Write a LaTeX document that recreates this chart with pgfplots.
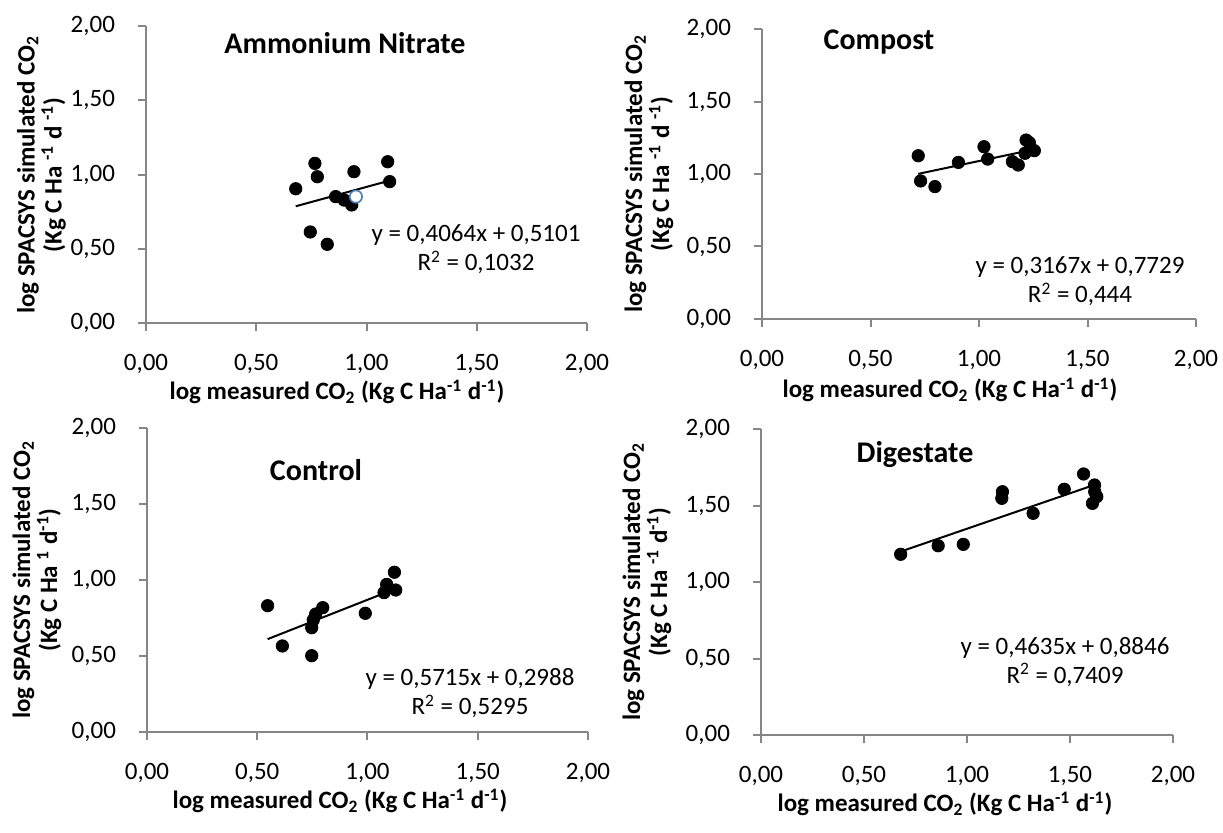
\documentclass[border=0pt]{standalone}
\usepackage{pgfplots}
\pgfplotsset{compat=1.18}
\usepackage{fontspec}
\setmainfont{Carlito}
\definecolor{axgray}{HTML}{868686}
\definecolor{selblue}{HTML}{4A7EBB}
\pgfplotsset{
  myax/.style={
    scale only axis,
    xmin=0, xmax=2, ymin=0, ymax=2,
    xtick={0,0.5,1,1.5,2}, ytick={0,0.5,1,1.5,2},
    axis x line*=bottom, axis y line*=left,
    axis line style={axgray, line width=1pt},
    tick style={axgray, line width=1pt},
    tick align=outside,
    major tick length=4pt,
    clip=false,
    tick label style={font=\fontsize{12.5}{14}\selectfont},
    xticklabel style={yshift=-8pt},
    yticklabel style={xshift=-8pt},
    /pgf/number format/.cd, fixed, fixed zerofill, precision=2, use comma, assume math mode=true,
  },
  pts/.style={only marks, mark=*, mark size=3.1pt, black},
  trend/.style={black, line width=1pt, no marks},
}
\begin{document}
\begin{tikzpicture}
\useasboundingbox (0,0) rectangle (611.5pt,416pt);
% Panel 1: Ammonium Nitrate
\begin{axis}[myax, at={(73pt,254.5pt)}, anchor=south west, width=220.5pt, height=148.5pt]
\addplot[pts] coordinates {(0.679,0.904) (0.766,1.075) (0.777,0.985) (0.745,0.613) (0.822,0.530) (0.860,0.851) (0.899,0.828) (0.933,0.795) (0.943,1.019) (1.096,1.086) (1.105,0.952)};
\addplot[only marks, mark=*, mark size=3.1pt, mark options={draw=selblue, fill=white, line width=0.8pt}] coordinates {(0.952,0.851)};
\addplot[trend] coordinates {(0.679,0.786) (1.105,0.959)};
\end{axis}
% Panel 2: Compost
\begin{axis}[myax, at={(381pt,256.5pt)}, anchor=south west, width=217pt, height=145pt]
\addplot[pts] coordinates {(0.720,1.126) (0.731,0.952) (0.797,0.913) (0.905,1.080) (1.023,1.188) (1.040,1.103) (1.154,1.085) (1.181,1.062) (1.217,1.234) (1.232,1.216) (1.212,1.143) (1.255,1.161)};
\addplot[trend] coordinates {(0.720,1.001) (1.255,1.170)};
\end{axis}
% Panel 3: Control
\begin{axis}[myax, at={(73.5pt,50pt)}, anchor=south west, width=220.5pt, height=152pt]
\addplot[pts] coordinates {(0.547,0.831) (0.614,0.566) (0.747,0.502) (0.747,0.686) (0.754,0.737) (0.765,0.776) (0.797,0.818) (0.990,0.781) (1.075,0.917) (1.087,0.971) (1.128,0.934) (1.122,1.051)};
\addplot[trend] coordinates {(0.547,0.611) (1.128,0.943)};
\end{axis}
% Panel 4: Digestate
\begin{axis}[myax, at={(380.5pt,48.5pt)}, anchor=south west, width=206pt, height=153pt]
\addplot[pts] coordinates {(0.678,1.181) (0.860,1.237) (0.982,1.246) (1.172,1.590) (1.169,1.547) (1.321,1.449) (1.472,1.606) (1.566,1.706) (1.619,1.634) (1.630,1.558) (1.609,1.514) (1.620,1.590)};
\addplot[trend] coordinates {(0.678,1.199) (1.630,1.640)};
\end{axis}
% titles
\begin{scope}[every node/.style={font=\bfseries\fontsize{15}{17}\selectfont}]
\node at (172.5pt,394.5pt) {Ammonium Nitrate};
\node at (439.5pt,395pt) {Compost};
\node at (158pt,181pt) {Control};
\node at (457.5pt,188.5pt) {Digestate};
\end{scope}
% equations
\begin{scope}[every node/.style={align=center, font=\fontsize{12.5}{14.5}\selectfont}]
\node at (238pt,291.25pt) {y = 0,4064x + 0,5101\\R\textsuperscript{2} = 0,1032};
\node at (540pt,275.25pt) {y = 0,3167x + 0,7729\\R\textsuperscript{2} = 0,444};
\node at (235pt,69.25pt) {y = 0,5715x + 0,2988\\R\textsuperscript{2} = 0,5295};
\node at (532.5pt,85pt) {y = 0,4635x + 0,8846\\R\textsuperscript{2} = 0,7409};
\end{scope}
% x labels
\begin{scope}[every node/.style={font=\bfseries\fontsize{12.5}{14}\selectfont}]
\node at (168.5pt,220pt) {log measured CO\textsubscript{2} (Kg C Ha\textsuperscript{-1}\ d\textsuperscript{-1})};
\node at (475pt,221pt) {log measured CO\textsubscript{2} (Kg C Ha\textsuperscript{-1}\ d\textsuperscript{-1})};
\node at (170pt,15.5pt) {log measured CO\textsubscript{2} (Kg C Ha\textsuperscript{-1}\ d\textsuperscript{-1})};
\node at (472.5pt,14pt) {log measured CO\textsubscript{2} (Kg C Ha\textsuperscript{-1}\ d\textsuperscript{-1})};
\end{scope}
% y labels
\begin{scope}[every node/.style={rotate=90, align=center, font=\bfseries\fontsize{12.5}{13.5}\selectfont}]
\node at (20.75pt,328.5pt) {log SPACSYS simulated CO\textsubscript{2}\\(Kg C Ha \textsuperscript{-1} d \textsuperscript{-1})};
\node at (324.5pt,329pt) {log SPACSYS simulated CO\textsubscript{2}\\(Kg C Ha \textsuperscript{-1} d \textsuperscript{-1})};
\node at (18.5pt,126pt) {log SPACSYS simulated CO\textsubscript{2}\\(Kg C Ha \textsuperscript{1} d\textsuperscript{-1})};
\node at (323.5pt,125pt) {log SPACSYS simulated CO\textsubscript{2}\\(Kg C Ha \textsuperscript{-1} d\textsuperscript{-1})};
\end{scope}
\end{tikzpicture}
\end{document}
